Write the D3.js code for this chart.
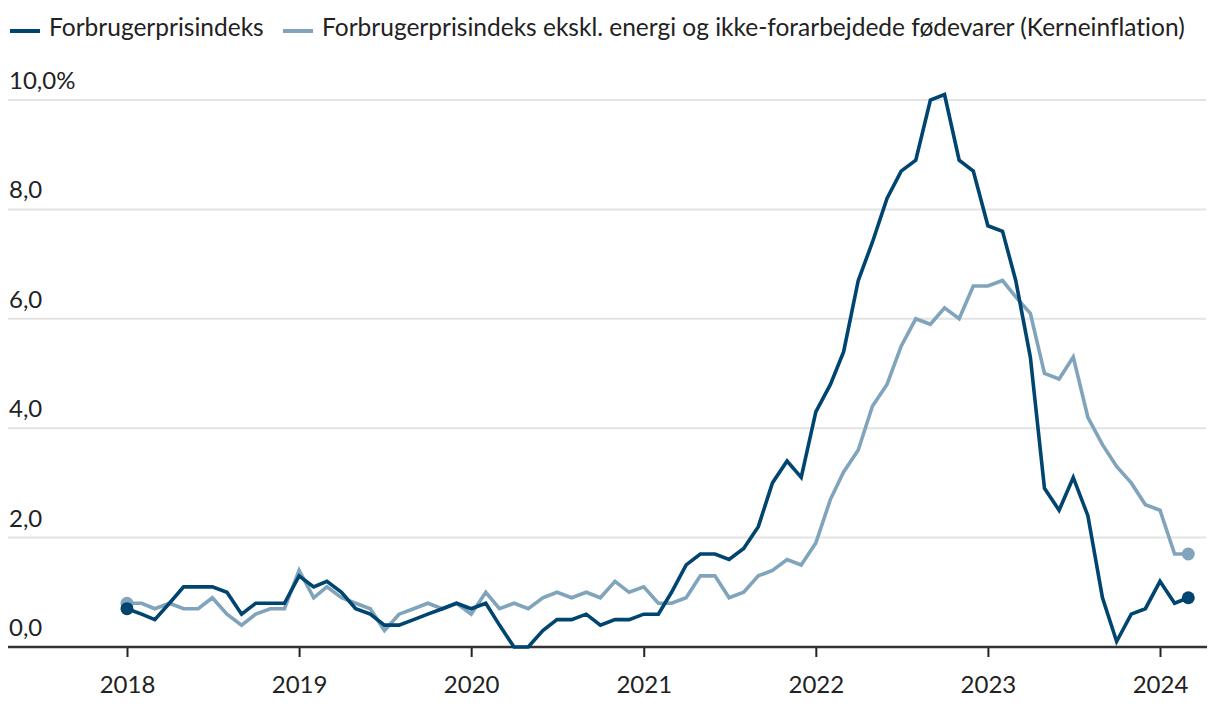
<!DOCTYPE html>
<html>
<head>
<meta charset="utf-8">
<script src="https://cdn.jsdelivr.net/npm/d3@7"></script>
<style>
  html, body { margin: 0; padding: 0; background: #fff; }
  svg { display: block; font-family: Lato, "Open Sans", sans-serif; font-variant-ligatures: none; }
</style>
</head>
<body>
<svg id="chart" width="1220" height="706"></svg>
<script>
// ---- Data ----
const startMonth = "2018-01";
const seriesNames = [
  "Forbrugerprisindeks",
  "Forbrugerprisindeks ekskl. energi og ikke-forarbejdede fødevarer (Kerneinflation)"
];
const cpi = [
  0.7, 0.6, 0.5, 0.8, 1.1, 1.1, 1.1, 1.0, 0.6, 0.8, 0.8, 0.8,
  1.3, 1.1, 1.2, 1.0, 0.7, 0.6, 0.4, 0.4, 0.5, 0.6, 0.7, 0.8,
  0.7, 0.8, 0.4, 0.0, 0.0, 0.3, 0.5, 0.5, 0.6, 0.4, 0.5, 0.5,
  0.6, 0.6, 1.0, 1.5, 1.7, 1.7, 1.6, 1.8, 2.2, 3.0, 3.4, 3.1,
  4.3, 4.8, 5.4, 6.7, 7.4, 8.2, 8.7, 8.9, 10.0, 10.1, 8.9, 8.7,
  7.7, 7.6, 6.7, 5.3, 2.9, 2.5, 3.1, 2.4, 0.9, 0.1, 0.6, 0.7,
  1.2, 0.8, 0.9
];
const core = [
  0.8, 0.8, 0.7, 0.8, 0.7, 0.7, 0.9, 0.6, 0.4, 0.6, 0.7, 0.7,
  1.4, 0.9, 1.1, 0.9, 0.8, 0.7, 0.3, 0.6, 0.7, 0.8, 0.7, 0.8,
  0.6, 1.0, 0.7, 0.8, 0.7, 0.9, 1.0, 0.9, 1.0, 0.9, 1.2, 1.0,
  1.1, 0.8, 0.8, 0.9, 1.3, 1.3, 0.9, 1.0, 1.3, 1.4, 1.6, 1.5,
  1.9, 2.7, 3.2, 3.6, 4.4, 4.8, 5.5, 6.0, 5.9, 6.2, 6.0, 6.6,
  6.6, 6.7, 6.4, 6.1, 5.0, 4.9, 5.3, 4.2, 3.7, 3.3, 3.0, 2.6,
  2.5, 1.7, 1.7
];
const yTicks = [0, 2, 4, 6, 8, 10];
const yTickLabels = ["0,0", "2,0", "4,0", "6,0", "8,0", "10,0%"];
const xTickYears = [2018, 2019, 2020, 2021, 2022, 2023, 2024];
const colors = ["#004570", "#7fa4bb"];

// ---- Build ----
const svg = d3.select("#chart");
const parseMonth = d3.timeParse("%Y-%m");
const t0 = parseMonth(startMonth);
const dates = cpi.map((_, i) => d3.timeMonth.offset(t0, i));

const x = d3.scaleTime()
  .domain([new Date(2018, 0, 1), new Date(2024, 0, 1)])
  .range([127, 1160]);
const y = d3.scaleLinear().domain([0, 10]).range([647, 100]);

// gridlines
svg.append("g").selectAll("line")
  .data(yTicks.filter(d => d !== 0))
  .join("line")
  .attr("x1", 8).attr("x2", 1206)
  .attr("y1", d => y(d)).attr("y2", d => y(d))
  .attr("stroke", "#e3e3e3").attr("stroke-width", 2);

// y labels
svg.append("g").selectAll("text")
  .data(yTicks)
  .join("text")
  .attr("x", 9)
  .attr("y", d => y(d) - 11)
  .attr("font-size", 24)
  .attr("fill", "#222")
  .text((d, i) => yTickLabels[i]);

// x axis
const xAxis = d3.axisBottom(x)
  .tickValues(xTickYears.map(yr => new Date(yr, 0, 1)))
  .tickFormat(d3.timeFormat("%Y"))
  .tickSize(10)
  .tickPadding(18);
const gx = svg.append("g").attr("transform", `translate(0,${y(0)})`).call(xAxis);
gx.select(".domain").remove();
gx.selectAll(".tick line").attr("stroke", "#222").attr("stroke-width", 2);
gx.selectAll(".tick text")
  .attr("y", 46).attr("dy", 0)
  .attr("font-size", 24).attr("fill", "#222")
  .attr("font-family", "Lato, 'Open Sans', sans-serif");
svg.append("line")
  .attr("x1", 8).attr("x2", 1207)
  .attr("y1", y(0)).attr("y2", y(0))
  .attr("stroke", "#333").attr("stroke-width", 2.5);

// lines
const line = d3.line().x((d, i) => x(dates[i])).y(d => y(d));
const series = [core, cpi]; // draw core first, cpi on top
const seriesColors = [colors[1], colors[0]];
series.forEach((s, k) => {
  svg.append("path")
    .datum(s)
    .attr("fill", "none")
    .attr("stroke", seriesColors[k])
    .attr("stroke-width", 3.6)
    .attr("stroke-linejoin", "miter")
    .attr("d", line);
  const ends = [0, s.length - 1];
  svg.append("g").selectAll("circle")
    .data(ends)
    .join("circle")
    .attr("cx", i => x(dates[i]))
    .attr("cy", i => y(s[i]))
    .attr("r", 6.5)
    .attr("fill", seriesColors[k]);
});

// legend
const legendItems = [
  { name: seriesNames[0], color: colors[0], x: 10 },
  { name: seriesNames[1], color: colors[1], x: 283 }
];
const lg = svg.append("g");
legendItems.forEach(it => {
  lg.append("line")
    .attr("x1", it.x).attr("x2", it.x + 30)
    .attr("y1", 31).attr("y2", 31)
    .attr("stroke", it.color).attr("stroke-width", 4);
  lg.append("text")
    .attr("x", it.x + 39).attr("y", 36)
    .attr("font-size", 24.5)
    .attr("fill", "#222")
    .text(it.name);
});
</script>
</body>
</html>
